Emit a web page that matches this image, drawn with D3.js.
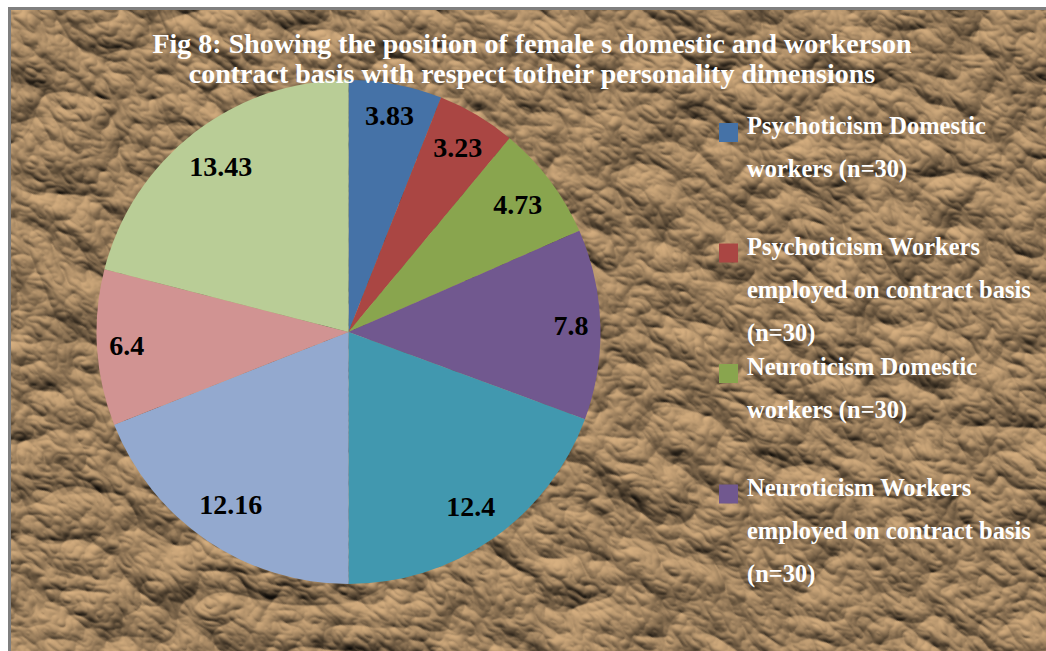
<!DOCTYPE html>
<html>
<head>
<meta charset="utf-8">
<script src="https://cdn.jsdelivr.net/npm/d3@7"></script>
<style>
	html, body { margin: 0; padding: 0; background: #fff; }
	svg { display: block; }
	text { font-family: "Liberation Serif", "Times New Roman", serif; font-weight: bold; }
</style>
</head>
<body>
<svg id="chart" width="1046" height="651"></svg>
<script>
'use strict';

// values, clockwise from 12 o'clock
var values = [3.83, 3.23, 4.73, 7.8, 12.4, 12.16, 6.4, 13.43];
var colors = ['#4572A7', '#AA4643', '#89A54E', '#71588F', '#4198AF', '#93A9CF', '#D19392', '#B9CD96'];
// only the first four legend entries fit in the original
var legendLabels = [
	'Psychoticism Domestic workers (n=30)',
	'Psychoticism Workers employed on contract basis (n=30)',
	'Neuroticism Domestic workers (n=30)',
	'Neuroticism Workers employed on contract basis (n=30)'
];
var titleLines = [
	'Fig 8: Showing the position of female s domestic and workerson',
	'contract basis with respect totheir personality dimensions'
];

var W = 1046, H = 651;
var svg = d3.select('#chart');

// crumpled paper background
var defs = svg.append('defs');
var filter = defs.append('filter')
	.attr('id', 'paper')
	.attr('x', 0).attr('y', 0).attr('width', 1).attr('height', 1)
	.attr('color-interpolation-filters', 'sRGB')
	;
filter.append('feTurbulence')
	.attr('type', 'turbulence')
	.attr('baseFrequency', '0.011 0.017')
	.attr('numOctaves', 4)
	.attr('seed', 23)
	.attr('result', 'noise')
	;
var light = filter.append('feDiffuseLighting')
	.attr('in', 'noise')
	.attr('lighting-color', '#dab282')
	.attr('surfaceScale', 7.5)
	.attr('diffuseConstant', 1.0)
	.attr('result', 'lit')
	;
light.append('feDistantLight')
	.attr('azimuth', 225)
	.attr('elevation', 45)
	;

svg.append('rect')
	.attr('x', 8).attr('y', 7)
	.attr('width', W - 8).attr('height', H - 7)
	.attr('fill', '#7f7f7f')
	;
defs.append('clipPath').attr('id', 'bgclip')
	.append('rect')
		.attr('x', 11).attr('y', 10)
		.attr('width', W - 11).attr('height', H - 10)
	;
var bg = svg.append('g')
	.attr('clip-path', 'url(#bgclip)')
	;
bg.append('rect')
	.attr('x', -300).attr('y', -300)
	.attr('width', W + 600).attr('height', H + 600)
	.attr('fill', '#b8946a')
	.attr('transform', 'rotate(35 ' + W/2 + ' ' + H/2 + ')')
	.attr('filter', 'url(#paper)')
	;

// pie
var cx = 348.5, cy = 332, R = 252;
var pie = d3.pie()
	.sort(null)
	.value(function(d) { return d; })
	(values)
	;
var arc = d3.arc()
	.innerRadius(0)
	.outerRadius(R)
	;

var chart = svg.append('g')
	.attr('transform', 'translate(' + cx + ' ' + cy + ')')
	;
chart.selectAll('path.sector')
	.data(pie)
	.enter()
	.append('path')
		.classed('sector', true)
		.attr('d', arc)
		.attr('fill', function(d, i) { return colors[i]; })
	;

// "inside end" labels: push the label box outwards until its far corner
// sits a little inside the rim
var labelFont = 28, boxHalfH = 16, rimGap = 11;
function insideEnd(d, halfW) {
	var a = (d.startAngle + d.endAngle) / 2;
	var s = Math.abs(Math.sin(a)), c = Math.abs(Math.cos(a));
	var lo = 0, hi = R;
	for (var k = 0; k < 30; k++) {
		var r = (lo + hi) / 2;
		var dist = Math.hypot(r * s + halfW, r * c + boxHalfH);
		if (dist > R - rimGap) hi = r; else lo = r;
	}
	return [lo * Math.sin(a), -lo * Math.cos(a)];
}
chart.selectAll('text.sectorlabel')
	.data(pie)
	.enter()
	.append('text')
		.classed('sectorlabel', true)
		.attr('text-anchor', 'middle')
		.attr('dy', '0.33em')
		.attr('font-size', labelFont)
		.attr('fill', '#000')
		.text(function(d) { return d.data; })
		.attr('transform', function(d) {
			var p = insideEnd(d, this.getComputedTextLength() / 2);
			return 'translate(' + p + ')';
		})
	;

// title
svg.append('g')
	.selectAll('text')
	.data(titleLines)
	.enter()
	.append('text')
		.attr('x', 532)
		.attr('y', function(d, i) { return 53 + i * 30; })
		.attr('text-anchor', 'middle')
		.attr('font-size', 28)
		.attr('fill', '#fff')
		.text(function(d) { return d; })
	;

// legend, word-wrapped like the original
var legend = svg.append('g');
var wrapWidth = 292, lineHeight = 43;
legendLabels.forEach(function(label, i) {
	var y0 = 123 + i * 120.5;
	legend.append('rect')
		.attr('x', 719).attr('y', y0)
		.attr('width', 19).attr('height', 19)
		.attr('fill', colors[i])
		;
	var text = legend.append('text')
		.attr('font-size', 24.5)
		.attr('fill', '#fff')
		;
	var words = label.split(' '), line = [], n = 0;
	var tspan = text.append('tspan').attr('x', 747).attr('y', y0 + 11);
	words.forEach(function(w) {
		line.push(w);
		tspan.text(line.join(' '));
		if (tspan.node().getComputedTextLength() > wrapWidth && line.length > 1) {
			line.pop();
			tspan.text(line.join(' '));
			line = [w];
			n++;
			tspan = text.append('tspan')
				.attr('x', 747)
				.attr('y', y0 + 11 + n * lineHeight)
				.text(w);
		}
	});
});
</script>
</body>
</html>
